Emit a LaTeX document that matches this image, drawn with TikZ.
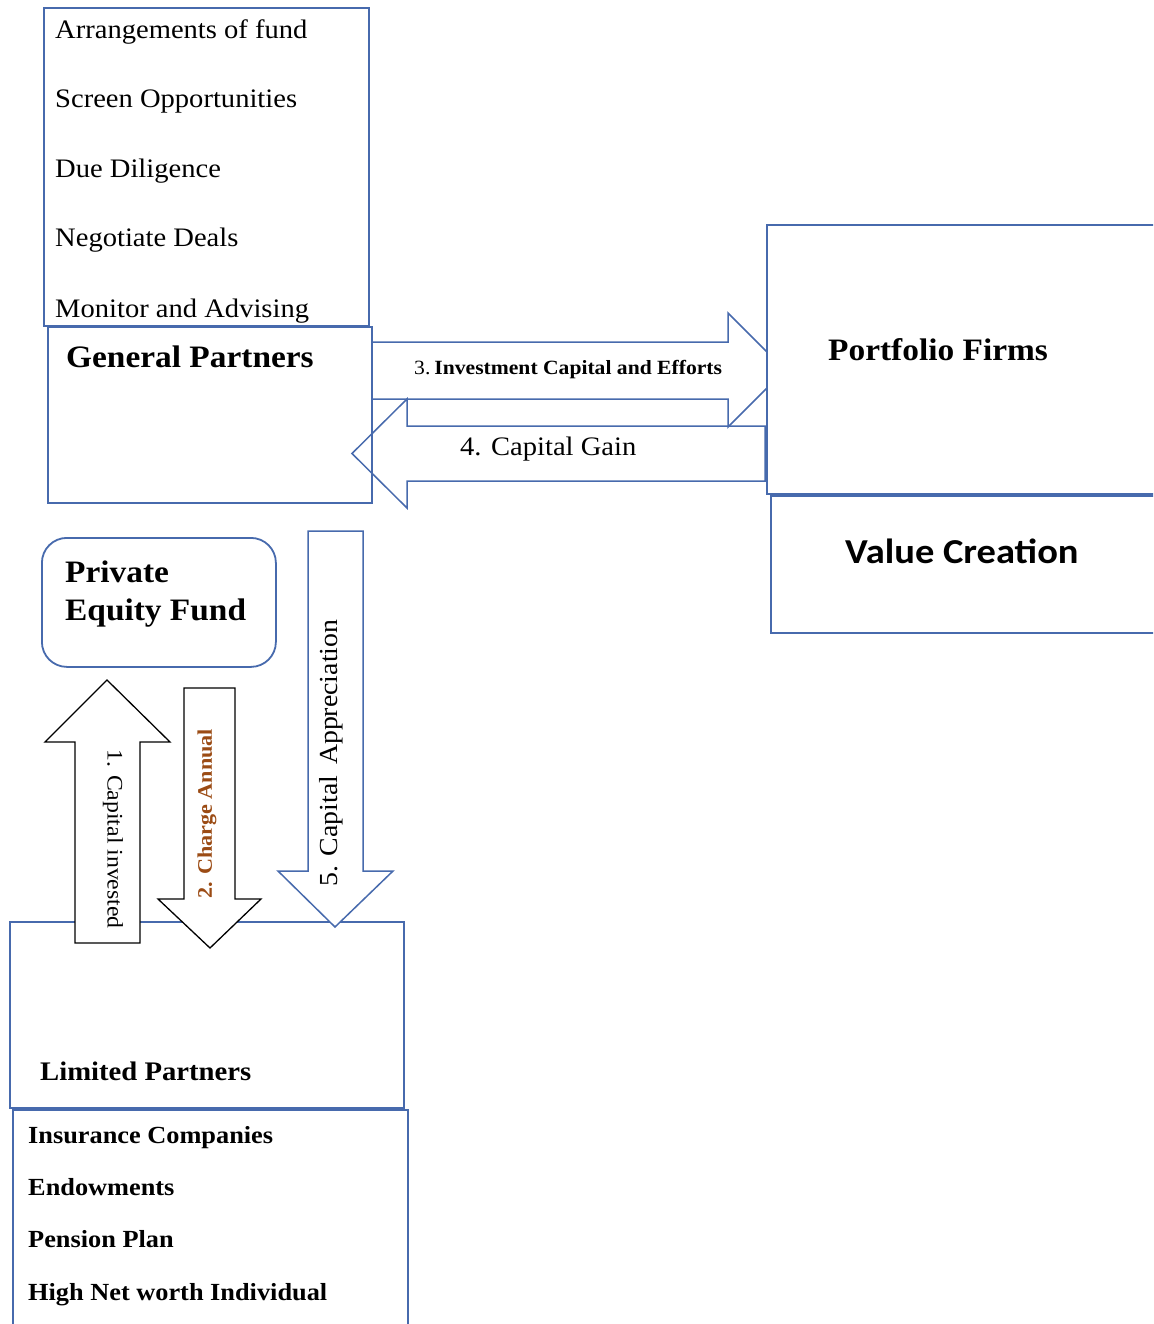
\documentclass[tikz,border=0pt]{standalone}
\usepackage{fontspec}
\setmainfont{Liberation Serif}[FakeStretch=1.07]
\newfontfamily\calib{Carlito}[FakeStretch=1.1]
\definecolor{bl}{RGB}{71,106,173}
\definecolor{br}{RGB}{155,75,20}
\tikzset{
  box/.style={draw=bl, line width=1.8pt, fill=white, anchor=north west, inner sep=0pt},
  lbl/.style={anchor=base west, inner sep=0pt, text=black},
  blarrow/.style={draw=bl, line width=1.5pt},
  bkarrow/.style={draw=black, line width=1.3pt, fill=white},
  vlbl/.style={anchor=center, inner sep=0pt}
}
\newcommand{\fs}[1]{\fontsize{#1}{#1}\selectfont}
\begin{document}
\begin{tikzpicture}[x=1pt,y=-1pt]
\path[use as bounding box, clip] (0,0) rectangle (1153,1324);
\fill[white] (0,0) rectangle (1153,1324);

% top task box
\node[box, minimum width=325pt, minimum height=318pt] (tasks) at (43,7) {};
\node[lbl] (t1) at (55,39) {\fs{26.7}Arrangements of fund};
\node[lbl] (t2) at (55,108) {\fs{26.7}Screen Opportunities};
\node[lbl] (t3) at (55,178) {\fs{26.7}Due Diligence};
\node[lbl] (t4) at (55,247) {\fs{26.7}Negotiate Deals};
\node[lbl] (t5) at (55,317) {\fs{26.7}Monitor and Advising};

% general partners
\node[box, fill=none, minimum width=324pt, minimum height=176pt] (gp) at (47,326) {};
\node[lbl] (gpt) at (66,367) {\fs{31.2}\bfseries General Partners};

% arrows 3 and 4
\draw[blarrow] (372,342) -- (728,342) -- (728,313) -- (785,370) -- (728,427)
  -- (728,399) -- (372,399) -- cycle;
\draw[blarrow] (765,426) -- (407,426) -- (407,399) -- (352,453.5) -- (407,508)
  -- (407,481) -- (765,481) -- cycle;
\node[lbl] (a3) at (414,374) {\fs{20.2}3.\hspace{0.2em}\bfseries Investment Capital and Efforts};
\node[lbl] (a4) at (460,455) {\fs{26.7}4. Capital Gain};

% portfolio firms and value creation
\node[box, minimum width=400pt, minimum height=269pt] (pf) at (766,224) {};
\node[lbl] (pft) at (828,360) {\fs{31.2}\bfseries Portfolio Firms};
\node[box, minimum width=400pt, minimum height=137pt] (vc) at (770,495) {};
\node[lbl] (vct) at (845,563) {\calib\fs{35}\bfseries Value Creation};

% private equity fund
\node[box, rounded corners=25pt, minimum width=234pt, minimum height=129pt] (pef) at (41,537) {};
\node[lbl] (pef1) at (65,582) {\fs{31.2}\bfseries Private};
\node[lbl] (pef2) at (65,620) {\fs{31.2}\bfseries Equity Fund};

% limited partners
\node[box, minimum width=394pt, minimum height=186pt] (lp) at (9,921) {};
\node[lbl] (lpt) at (40,1080) {\fs{26.8}\bfseries Limited Partners};
\node[box, minimum width=395pt, minimum height=240pt] (lpl) at (12,1109) {};
\node[lbl] (l1) at (28,1143) {\fs{24.6}\bfseries Insurance Companies};
\node[lbl] (l2) at (28,1195) {\fs{24.6}\bfseries Endowments};
\node[lbl] (l3) at (28,1247) {\fs{24.6}\bfseries Pension Plan};
\node[lbl] (l4) at (28,1300) {\fs{24.6}\bfseries High Net worth Individual};

% vertical arrows
\draw[bkarrow] (75,943) -- (75,742) -- (45,742) -- (107,680) -- (170,742)
  -- (140,742) -- (140,943) -- cycle;
\draw[bkarrow] (184,688) -- (235,688) -- (235,899) -- (261,899) -- (210,948)
  -- (158,899) -- (184,899) -- cycle;
\draw[blarrow, fill=white] (308,531) -- (363,531) -- (363,871) -- (393,871)
  -- (335,927) -- (278,871) -- (308,871) -- cycle;

\node[vlbl, rotate=-90] (a1) at (113,839) {\fs{22.2}1. Capital invested};
\node[vlbl, rotate=90, text=br] (a2) at (207,814) {\fs{20.7}\bfseries 2. Charge Annual};
\node[vlbl, rotate=90] (a5) at (331,753) {\fs{26}5. Capital\hspace{0.15em} Appreciation};
\end{tikzpicture}
\end{document}
